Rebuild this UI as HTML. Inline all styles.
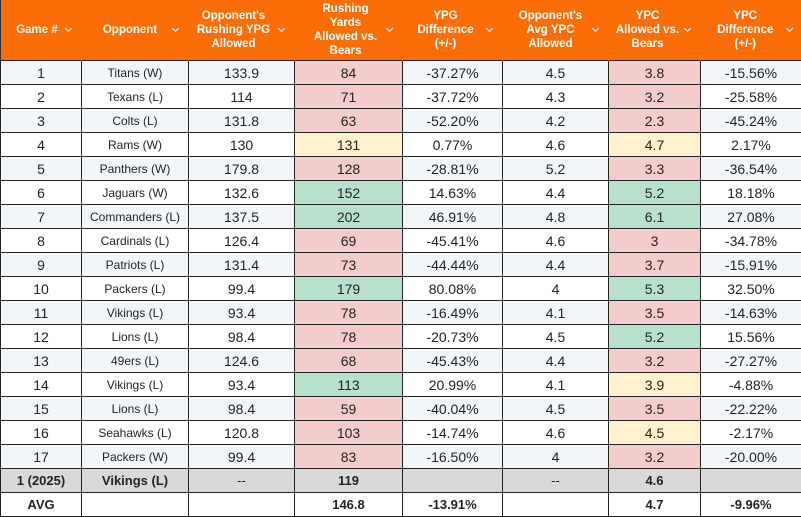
<!DOCTYPE html>
<html><head><meta charset="utf-8"><style>
body{margin:0;width:801px;height:517px;overflow:hidden;background:#fff;font-family:"Liberation Sans",sans-serif}
table{border-collapse:collapse;table-layout:fixed;width:801px;position:absolute;left:0;top:0}
th{background:#fb6d06;color:#fff;font-size:11.5px;font-weight:bold;height:60px;padding:0 22px 0 12px;line-height:14px;position:relative;border-left:1px solid #fb6d06}
th:first-child{border-left:1px solid #333;padding:0 14px 0 6px}
th::after{content:"";position:absolute;right:10px;top:26px;width:4px;height:4px;border-right:1.2px solid #fff;border-bottom:1.2px solid #fff;transform:rotate(45deg)}
td{height:23px;border:1px solid #222;text-align:center;font-size:14px;color:#222;padding:0}
td.o{font-size:12px}
tr:nth-child(even) td{background:#f3f6f9}
td.r{background:#f4cccc!important}
td.g{background:#b7e1cd!important}
td.y{background:#fff2cc!important}
tr.gr td{background:#d9d9d9!important;font-weight:bold;font-size:13px}
tr.av td{background:#fff!important;font-weight:bold;font-size:13px}
</style></head><body>
<table>
<colgroup><col style="width:81px"><col style="width:107px"><col style="width:106px"><col style="width:108px"><col style="width:100px"><col style="width:106px"><col style="width:92px"><col style="width:101px"></colgroup>
<tr><th>Game #</th><th>Opponent</th><th style="padding:0 18px 0 2px">Opponent's Rushing YPG Allowed</th><th style="padding:0 24px 0 18px">Rushing Yards Allowed vs. Bears</th><th style="padding:0 22px 0 8px">YPG Difference (+/-)</th><th>Opponent's Avg YPC Allowed</th><th style="padding:0 20px 0 6px">YPC Allowed vs. Bears</th><th style="padding:0 20px 0 8px">YPC Difference (+/-)</th></tr>
<tr><td>1</td><td class="o">Titans (W)</td><td>133.9</td><td class="r">84</td><td>-37.27%</td><td>4.5</td><td class="r">3.8</td><td>-15.56%</td></tr>
<tr><td>2</td><td class="o">Texans (L)</td><td>114</td><td class="r">71</td><td>-37.72%</td><td>4.3</td><td class="r">3.2</td><td>-25.58%</td></tr>
<tr><td>3</td><td class="o">Colts (L)</td><td>131.8</td><td class="r">63</td><td>-52.20%</td><td>4.2</td><td class="r">2.3</td><td>-45.24%</td></tr>
<tr><td>4</td><td class="o">Rams (W)</td><td>130</td><td class="y">131</td><td>0.77%</td><td>4.6</td><td class="y">4.7</td><td>2.17%</td></tr>
<tr><td>5</td><td class="o">Panthers (W)</td><td>179.8</td><td class="r">128</td><td>-28.81%</td><td>5.2</td><td class="r">3.3</td><td>-36.54%</td></tr>
<tr><td>6</td><td class="o">Jaguars (W)</td><td>132.6</td><td class="g">152</td><td>14.63%</td><td>4.4</td><td class="g">5.2</td><td>18.18%</td></tr>
<tr><td>7</td><td class="o">Commanders (L)</td><td>137.5</td><td class="g">202</td><td>46.91%</td><td>4.8</td><td class="g">6.1</td><td>27.08%</td></tr>
<tr><td>8</td><td class="o">Cardinals (L)</td><td>126.4</td><td class="r">69</td><td>-45.41%</td><td>4.6</td><td class="r">3</td><td>-34.78%</td></tr>
<tr><td>9</td><td class="o">Patriots (L)</td><td>131.4</td><td class="r">73</td><td>-44.44%</td><td>4.4</td><td class="r">3.7</td><td>-15.91%</td></tr>
<tr><td>10</td><td class="o">Packers (L)</td><td>99.4</td><td class="g">179</td><td>80.08%</td><td>4</td><td class="g">5.3</td><td>32.50%</td></tr>
<tr><td>11</td><td class="o">Vikings (L)</td><td>93.4</td><td class="r">78</td><td>-16.49%</td><td>4.1</td><td class="r">3.5</td><td>-14.63%</td></tr>
<tr><td>12</td><td class="o">Lions (L)</td><td>98.4</td><td class="r">78</td><td>-20.73%</td><td>4.5</td><td class="g">5.2</td><td>15.56%</td></tr>
<tr><td>13</td><td class="o">49ers (L)</td><td>124.6</td><td class="r">68</td><td>-45.43%</td><td>4.4</td><td class="r">3.2</td><td>-27.27%</td></tr>
<tr><td>14</td><td class="o">Vikings (L)</td><td>93.4</td><td class="g">113</td><td>20.99%</td><td>4.1</td><td class="y">3.9</td><td>-4.88%</td></tr>
<tr><td>15</td><td class="o">Lions (L)</td><td>98.4</td><td class="r">59</td><td>-40.04%</td><td>4.5</td><td class="r">3.5</td><td>-22.22%</td></tr>
<tr><td>16</td><td class="o">Seahawks (L)</td><td>120.8</td><td class="r">103</td><td>-14.74%</td><td>4.6</td><td class="y">4.5</td><td>-2.17%</td></tr>
<tr><td>17</td><td class="o">Packers (W)</td><td>99.4</td><td class="r">83</td><td>-16.50%</td><td>4</td><td class="r">3.2</td><td>-20.00%</td></tr>
<tr class="gr"><td>1 (2025)</td><td class="o">Vikings (L)</td><td style="font-weight:normal">--</td><td>119</td><td></td><td style="font-weight:normal">--</td><td>4.6</td><td></td></tr>
<tr class="av"><td>AVG</td><td></td><td></td><td>146.8</td><td>-13.91%</td><td></td><td>4.7</td><td>-9.96%</td></tr>
</table>
</body></html>
